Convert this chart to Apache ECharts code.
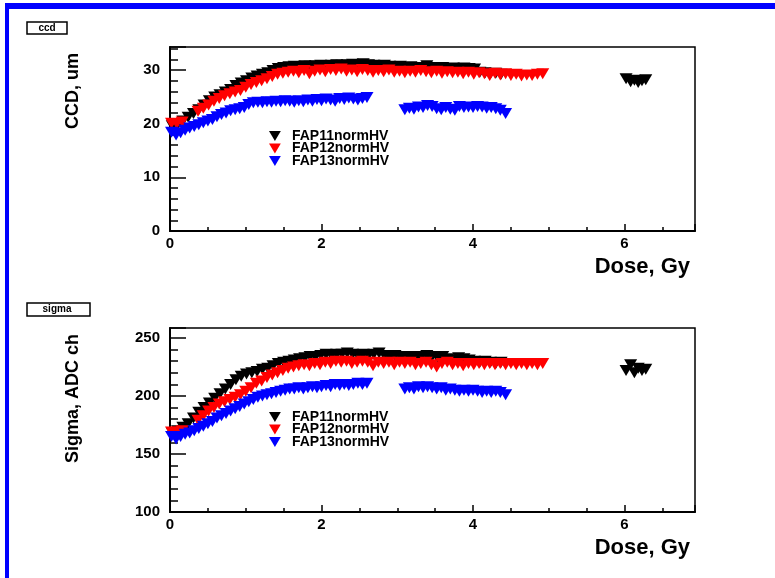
<!DOCTYPE html>
<html>
<head>
<meta charset="utf-8">
<script src="https://cdn.jsdelivr.net/npm/echarts@6/dist/echarts.min.js"></script>
<style>
  html, body { margin: 0; padding: 0; background: #ffffff; }
  #chart { width: 775px; height: 578px; }
</style>
</head>
<body>
<div id="chart"></div>
<script>
// Dose (Gy) and measured CCD / sigma per detector
const doseFAP11 = [0.03,0.10,0.17,0.24,0.31,0.38,0.45,0.52,0.59,0.66,0.73,0.80,0.87,0.94,1.01,1.08,1.15,1.22,1.29,1.36,1.43,1.50,1.57,1.64,1.71,1.78,1.85,1.92,1.99,2.06,2.13,2.20,2.27,2.34,2.41,2.48,2.55,2.62,2.69,2.76,2.83,2.90,2.97,3.04,3.11,3.18,3.25,3.32,3.39,3.46,3.53,3.60,3.67,3.74,3.81,3.88,3.95,4.02,4.09,4.16,4.23,4.30,4.37,6.02,6.08,6.13,6.18,6.23,6.28];
const ccdFAP11 = [19.6,19.8,20.5,21.2,21.9,22.6,23.5,24.3,25.0,25.4,25.9,26.4,27.1,27.6,28.0,28.5,28.9,29.2,29.5,29.9,30.3,30.5,30.6,30.7,30.6,30.8,30.7,30.8,30.9,30.8,30.9,31.0,30.9,31.0,31.1,31.0,31.2,31.0,30.9,30.8,30.9,30.7,30.6,30.7,30.5,30.6,30.4,30.5,30.8,30.5,30.4,30.5,30.3,30.4,30.3,30.4,30.3,30.2,29.6,29.5,29.3,29.4,29.2,28.4,27.8,28.1,27.7,28.0,28.2];
const sigmaFAP11 = [168,170,173,176,181,186,190,194,198,202,206,210,214,217,219,220,221,223,224,226,228,229,230,231,232,233,234,234,235,236,235,236,236,237,236,235,236,235,236,237,235,234,235,234,233,234,233,234,235,234,233,234,232,231,233,232,231,230,229,230,229,228,229,222,227,220,224,222,223];

const doseFAP12 = [0.02,0.09,0.16,0.37,0.44,0.51,0.58,0.65,0.72,0.79,0.86,0.93,1.00,1.07,1.14,1.21,1.28,1.35,1.42,1.49,1.56,1.63,1.70,1.77,1.84,1.91,1.98,2.05,2.12,2.19,2.26,2.33,2.40,2.47,2.54,2.61,2.68,2.75,2.82,2.89,2.96,3.03,3.10,3.17,3.24,3.31,3.38,3.45,3.52,3.59,3.66,3.73,3.80,3.87,3.94,4.01,4.08,4.15,4.22,4.29,4.36,4.43,4.50,4.57,4.64,4.71,4.78,4.85,4.92];
const ccdFAP12 = [20.1,20.0,20.3,22.3,22.9,23.5,24.2,24.7,25.2,25.6,25.9,26.2,26.8,27.3,27.7,28.0,28.4,28.8,29.2,29.4,29.6,29.8,29.5,29.9,29.3,29.8,30.0,29.7,30.1,29.9,30.2,29.8,30.0,29.7,30.1,29.9,29.6,29.9,29.7,30.0,29.6,29.8,29.5,29.8,29.6,29.9,29.7,29.5,29.8,29.4,29.7,29.5,29.6,29.3,29.6,29.2,29.5,29.3,29.0,29.4,29.1,29.3,29.0,29.2,28.9,29.1,29.0,29.2,29.3];
const sigmaFAP12 = [169,169,170,179,183,187,190,193,195,197,199,201,204,207,211,213,216,218,220,222,224,225,226,227,226,228,227,229,228,230,229,230,228,229,230,229,226,229,228,229,227,229,228,229,227,228,229,227,225,228,229,227,228,226,228,227,228,227,228,227,228,227,228,227,228,227,228,227,228];

const doseFAP13 = [0.02,0.08,0.14,0.20,0.26,0.32,0.38,0.44,0.50,0.56,0.62,0.68,0.74,0.80,0.86,0.92,0.98,1.04,1.10,1.16,1.22,1.28,1.34,1.40,1.46,1.52,1.58,1.64,1.70,1.76,1.82,1.88,1.94,2.00,2.06,2.12,2.18,2.24,2.30,2.36,2.42,2.48,2.54,2.60,3.10,3.16,3.22,3.28,3.34,3.40,3.46,3.52,3.58,3.64,3.70,3.76,3.82,3.88,3.94,4.00,4.06,4.12,4.18,4.24,4.30,4.36,4.43];
const ccdFAP13 = [18.4,17.9,18.3,18.8,19.2,19.5,19.8,20.2,20.5,20.8,21.3,21.7,22.0,22.4,22.6,22.8,23.0,23.6,23.9,24.0,23.9,24.1,24.0,24.2,24.1,24.3,24.2,24.0,24.3,24.1,24.4,24.2,24.5,24.3,24.6,24.4,24.2,24.7,24.5,24.8,24.6,24.4,24.7,24.9,22.6,22.9,22.7,23.1,23.0,23.4,23.2,22.8,22.6,23.0,22.7,22.5,23.2,23.0,23.1,23.0,23.2,23.1,22.9,23.0,22.8,22.5,21.9];
const sigmaFAP13 = [165,163,165,167,168,170,172,174,176,178,181,183,185,187,189,191,193,195,197,199,200,201,202,203,204,205,206,206,207,206,207,208,207,208,209,208,210,209,210,209,210,211,210,211,206,207,206,208,207,208,207,206,207,205,206,205,204,205,204,205,204,203,204,203,204,203,201];

const seriesNames = ['FAP11normHV', 'FAP12normHV', 'FAP13normHV'];
const seriesColors = ['#000000', '#ff0000', '#0000ff'];
const doses = [doseFAP11, doseFAP12, doseFAP13];
const ccdValues = [ccdFAP11, ccdFAP12, ccdFAP13];
const sigmaValues = [sigmaFAP11, sigmaFAP12, sigmaFAP13];

// panel settings: y range, major / minor tick steps
const panels = [
  { key: 'ccd',   yMin: 0,   yMax: 34.3,  yMajor: 10, yMinor: 2,  values: ccdValues,   title: 'CCD, um',       top: 47 },
  { key: 'sigma', yMin: 100, yMax: 258.6, yMajor: 50, yMinor: 10, values: sigmaValues, title: 'Sigma, ADC ch', top: 328 }
];
const doseMax = 6.93;

const FONT = '"Liberation Sans", Arial, Helvetica, sans-serif';
const TRI_DOWN = 'path://M0,0 L13,0 L6.5,11 Z';

const pairs = (xs, ys) => xs.map((x, i) => [x, ys[i]]);

const grids = [], xAxes = [], yAxes = [], series = [], legends = [], graphics = [];

panels.forEach((p, g) => {
  grids.push({
    left: 170, top: p.top, width: 525, height: 184,
    show: true, borderColor: '#000', borderWidth: 1.5, backgroundColor: 'transparent'
  });
  // major x ticks with labels
  xAxes.push({
    gridIndex: g, type: 'value', position: 'bottom', min: 0, max: doseMax, interval: 2,
    axisLine: { show: true, onZero: false, lineStyle: { color: '#000', width: 2 } },
    axisTick: { show: true, inside: true, length: 7, lineStyle: { color: '#000', width: 1.5 } },
    axisLabel: {
      show: true, margin: 5, color: '#000', fontFamily: FONT, fontWeight: 'bold', fontSize: 15,
      formatter: v => (Math.abs(v % 2) < 1e-9 ? String(v) : '')
    },
    splitLine: { show: false }
  });
  // minor x ticks
  xAxes.push({
    gridIndex: g, type: 'value', position: 'bottom', min: 0, max: doseMax, interval: 0.5,
    axisLine: { show: false, onZero: false },
    axisTick: { show: true, inside: true, length: 4, lineStyle: { color: '#000', width: 1.5 } },
    axisLabel: { show: false },
    splitLine: { show: false }
  });
  // major y ticks with labels
  yAxes.push({
    gridIndex: g, type: 'value', position: 'left', min: p.yMin, max: p.yMax, interval: p.yMajor,
    axisLine: { show: true, onZero: false, lineStyle: { color: '#000', width: 2 } },
    axisTick: { show: true, inside: true, length: 16, lineStyle: { color: '#000', width: 1.5 } },
    axisLabel: {
      show: true, margin: 10, color: '#000', fontFamily: FONT, fontWeight: 'bold', fontSize: 15,
      formatter: v => (Math.abs(v % p.yMajor) < 1e-9 ? String(v) : '')
    },
    splitLine: { show: false }
  });
  // minor y ticks
  yAxes.push({
    gridIndex: g, type: 'value', position: 'left', min: p.yMin, max: p.yMax, interval: p.yMinor,
    axisLine: { show: false, onZero: false },
    axisTick: { show: true, inside: true, length: 8, lineStyle: { color: '#000', width: 1.5 } },
    axisLabel: { show: false },
    splitLine: { show: false }
  });

  seriesNames.forEach((name, s) => {
    series.push({
      name: name, type: 'scatter',
      xAxisIndex: 2 * g, yAxisIndex: 2 * g,
      symbol: TRI_DOWN, symbolSize: [13, 11],
      itemStyle: { color: seriesColors[s], opacity: 1 },
      data: pairs(doses[s], p.values[s])
    });
  });

  legends.push({
    orient: 'vertical', left: 264, top: p.top + 77,
    icon: TRI_DOWN, itemWidth: 22, itemHeight: 10, itemGap: -1.5,
    selectedMode: false,
    textStyle: { color: '#000', fontFamily: FONT, fontWeight: 'bold', fontSize: 14, padding: [0, 0, 0, 1] },
    data: seriesNames
  });

  // rotated y-axis title
  graphics.push({
    type: 'text', x: 73, y: p.top + 6, rotation: Math.PI / 2,
    style: { text: p.title, fill: '#000', font: 'bold 18px ' + FONT, textAlign: 'right', textVerticalAlign: 'middle' }
  });
  // x-axis title
  graphics.push({
    type: 'text', x: 690, y: p.top + 184 + 36,
    style: { text: 'Dose, Gy', fill: '#000', font: 'bold 22px ' + FONT, textAlign: 'right', textVerticalAlign: 'middle' }
  });
});

// pad title boxes
graphics.push(
  { type: 'rect', shape: { x: 27, y: 22, width: 40, height: 12 }, style: { fill: '#fff', stroke: '#000', lineWidth: 1.5 } },
  { type: 'text', x: 47, y: 28, style: { text: 'ccd', fill: '#000', font: 'bold 10px ' + FONT, textAlign: 'center', textVerticalAlign: 'middle' } },
  { type: 'rect', shape: { x: 27, y: 303, width: 63, height: 13 }, style: { fill: '#fff', stroke: '#000', lineWidth: 1.5 } },
  { type: 'text', x: 57, y: 309.5, style: { text: 'sigma', fill: '#000', font: 'bold 10px ' + FONT, textAlign: 'center', textVerticalAlign: 'middle' } }
);
// canvas frame (top and left edges)
graphics.push(
  { type: 'rect', shape: { x: 5, y: 3, width: 770, height: 6 }, style: { fill: '#0000ff' } },
  { type: 'rect', shape: { x: 5, y: 3, width: 4, height: 575 }, style: { fill: '#0000ff' } }
);

const chart = echarts.init(document.getElementById('chart'), null, { renderer: 'canvas' });
chart.setOption({
  backgroundColor: '#ffffff',
  animation: false,
  grid: grids,
  xAxis: xAxes,
  yAxis: yAxes,
  legend: legends,
  series: series,
  graphic: graphics
});
</script>
</body>
</html>
